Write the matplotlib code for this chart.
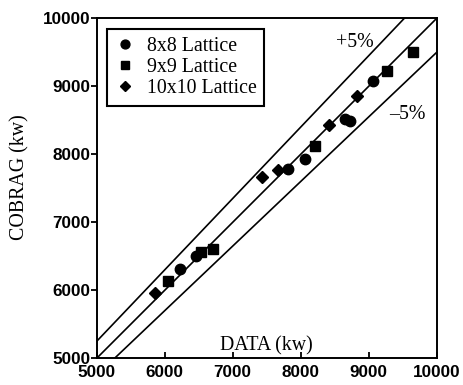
import matplotlib
matplotlib.use("Agg")
import numpy as np
import matplotlib.pyplot as plt

# measured vs. COBRAG-predicted bundle power (kw)
data_8x8 = [6225, 6460, 7810, 8070, 8650, 8720, 9060]
cobrag_8x8 = [6310, 6505, 7790, 7930, 8520, 8490, 9080]

data_9x9 = [6050, 6530, 6710, 8210, 9270, 9650]
cobrag_9x9 = [6140, 6560, 6600, 8125, 9230, 9500]

data_10x10 = [5860, 7430, 7670, 8420, 8830]
cobrag_10x10 = [5965, 7670, 7770, 8430, 8860]

band_slopes = [1.05, 1.0, 0.95]
AX_MIN, AX_MAX = 5000, 10000

SERIF = ["Liberation Serif", "DejaVu Serif"]
SANS = ["Liberation Sans", "DejaVu Sans"]
TXT = 14.3

fig = plt.figure(figsize=(4.64, 3.85), dpi=100)
ax = fig.add_axes([0.2084, 0.0694, 0.7328, 0.8831])

x_line = np.array([AX_MIN, AX_MAX])
for s in band_slopes:
    ax.plot(x_line, s * x_line, color="black", linewidth=1.2, zorder=1)

ax.plot(data_8x8, cobrag_8x8, "o", color="black", markersize=7.5,
        label="8x8 Lattice", zorder=3)
ax.plot(data_9x9, cobrag_9x9, "s", color="black", markersize=6.5,
        label="9x9 Lattice", zorder=3)
ax.plot(data_10x10, cobrag_10x10, "D", color="black", markersize=6.5,
        label="10x10 Lattice", zorder=3)

ax.text(8800, 9640, "+5%", fontsize=TXT, family=SERIF, ha="center", va="center")
ax.text(9570, 8580, "\u20135%", fontsize=TXT, family=SERIF, ha="center", va="center")

ax.set_xlim(AX_MIN, AX_MAX)
ax.set_ylim(AX_MIN, AX_MAX)
ax.set_xticks(np.arange(5000, 10001, 1000))
ax.set_yticks(np.arange(5000, 10001, 1000))

ax.tick_params(axis="x", direction="in", length=4, width=1.3, pad=5)
ax.tick_params(axis="y", direction="out", length=4, width=1.3, pad=0.5)
for lab in ax.get_xticklabels() + ax.get_yticklabels():
    lab.set_family(SANS)
    lab.set_fontweight("bold")
    lab.set_fontsize(12.3)

for sp in ax.spines.values():
    sp.set_linewidth(1.4)

ax.set_xlabel("DATA (kw)", fontsize=TXT, family=SERIF, va="center")
ax.xaxis.set_label_coords(0.5, 0.038)
ax.set_ylabel("COBRAG (kw)", fontsize=TXT, family=SERIF, va="center")
ax.yaxis.set_label_coords(-0.226, 0.533)

leg = ax.legend(loc="upper left", bbox_to_anchor=(0.03, 0.968), borderaxespad=0,
                prop={"family": SERIF, "size": TXT}, fancybox=False,
                edgecolor="black", framealpha=1, handlelength=1.0,
                handletextpad=0.6, labelspacing=0.1, borderpad=0.4,
                markerscale=0.85)
leg.get_frame().set_linewidth(1.5)

fig.savefig("out.png", dpi=100)
